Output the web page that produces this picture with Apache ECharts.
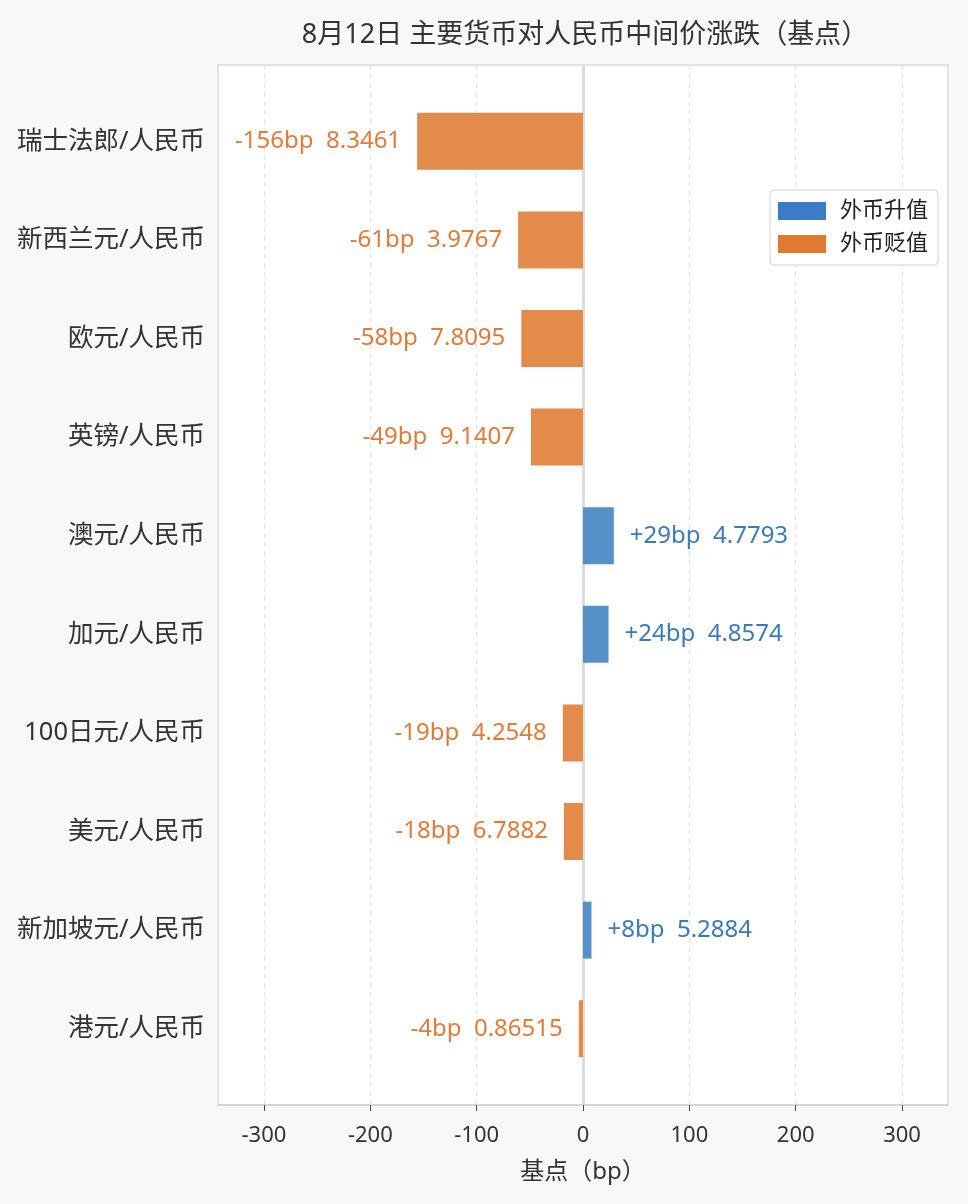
<!DOCTYPE html>
<html><head><meta charset="utf-8">
<script src="https://cdn.jsdelivr.net/npm/echarts@6/dist/echarts.min.js"></script>
<style>html,body{margin:0;padding:0;background:#f7f8fa;}#c{width:968px;height:1204px;}</style>
</head><body><div id="c"></div>
<script>
const categories = ['瑞士法郎/人民币','新西兰元/人民币','欧元/人民币','英镑/人民币','澳元/人民币','加元/人民币','100日元/人民币','美元/人民币','新加坡元/人民币','港元/人民币'];
const changes = [-156, -61, -58, -49, 29, 24, -19, -18, 8, -4];
const rates = ['8.3461','3.9767','7.8095','9.1407','4.7793','4.8574','4.2548','6.7882','5.2884','0.86515'];
const xTicks = [-300, -200, -100, 0, 100, 200, 300];
const xMin = -343.2, xMax = 343.2;

const FONT = '"Noto Sans","Noto Sans CJK SC",sans-serif';
const upData = changes.map(v => v > 0 ? v : '-');
const downData = changes.map(v => v < 0 ? v : '-');
const fmt = p => (p.value > 0 ? '+' : '') + p.value + 'bp  ' + rates[p.dataIndex];

const chart = echarts.init(document.getElementById('c'));
chart.setOption({
  backgroundColor: '#f7f8fa',
  textStyle: { fontFamily: FONT },
  title: {
    text: '8月12日 主要货币对人民币中间价涨跌（基点）',
    left: 580, textAlign: 'center', top: 17,
    textStyle: { fontSize: 27, fontWeight: 'normal', color: '#333', fontFamily: FONT }
  },
  legend: {
    orient: 'vertical', right: 30, top: 190,
    backgroundColor: '#fff', borderColor: '#d0d0d0', borderWidth: 1, borderRadius: 4,
    padding: [10, 10, 10, 8], itemGap: 11, itemWidth: 48, itemHeight: 18,
    icon: 'rect',
    textStyle: { fontSize: 22, color: '#222', fontFamily: FONT, padding: [0, 0, 0, 9] },
    data: [
      { name: '外币升值', itemStyle: { color: '#3a7dc4', opacity: 1 } },
      { name: '外币贬值', itemStyle: { color: '#e07a30', opacity: 1 } }
    ]
  },
  grid: [
    { left: 218, right: 20, top: 65, bottom: 99, show: true, backgroundColor: '#fff', borderColor: '#dcdcdc', borderWidth: 1.5, containLabel: false },
    { left: 218, right: 20, top: 92, bottom: 126, containLabel: false }
  ],
  xAxis: [
    {
      type: 'value', gridIndex: 0, min: xMin, max: xMax,
      name: '基点（bp）', nameLocation: 'middle', nameGap: 55,
      nameTextStyle: { fontSize: 24, color: '#333', fontFamily: FONT },
      axisLine: { show: true, lineStyle: { color: '#d0d0d0', width: 1.5 } },
      axisTick: { show: true, customValues: xTicks, length: 6, lineStyle: { color: '#444' } },
      axisLabel: { customValues: xTicks, fontSize: 22, color: '#333', margin: 20, fontFamily: FONT },
      splitLine: { show: false }
    },
    {
      type: 'value', gridIndex: 1, min: xMin, max: xMax, show: false, splitLine: { show: false }
    }
  ],
  yAxis: [
    { type: 'value', gridIndex: 0, min: 0, max: 1, show: false, splitLine: { show: false } },
    {
      type: 'category', gridIndex: 1, inverse: true, data: categories,
      axisLine: { show: false }, axisTick: { show: false },
      axisLabel: { fontSize: 25.5, color: '#333', margin: 13, fontFamily: FONT }
    }
  ],
  series: [
    {
      type: 'line', xAxisIndex: 0, yAxisIndex: 0, data: [], silent: true, z: 1,
      markLine: {
        silent: true, symbol: 'none', z: 1, animation: false,
        label: { show: false },
        data: xTicks.map(v => ({
          xAxis: v,
          lineStyle: v === 0 ? { color: '#dcdcdc', width: 3, type: 'solid' } : { color: '#e2e2e2', width: 1, type: [5, 4] }
        }))
      }
    },
    {
      name: '外币升值', type: 'bar', xAxisIndex: 1, yAxisIndex: 1, stack: 'a', z: 3,
      data: upData, barWidth: 57,
      itemStyle: { color: '#5590c8' },
      label: { show: true, position: 'right', distance: 16, fontSize: 24, color: '#3a7ab8', fontFamily: FONT, formatter: fmt }
    },
    {
      name: '外币贬值', type: 'bar', xAxisIndex: 1, yAxisIndex: 1, stack: 'a', z: 3,
      data: downData, barWidth: 57,
      itemStyle: { color: '#e38b4a' },
      label: { show: true, position: 'left', distance: 16, fontSize: 24, color: '#e07b39', fontFamily: FONT, formatter: fmt }
    }
  ]
});
</script></body></html>
